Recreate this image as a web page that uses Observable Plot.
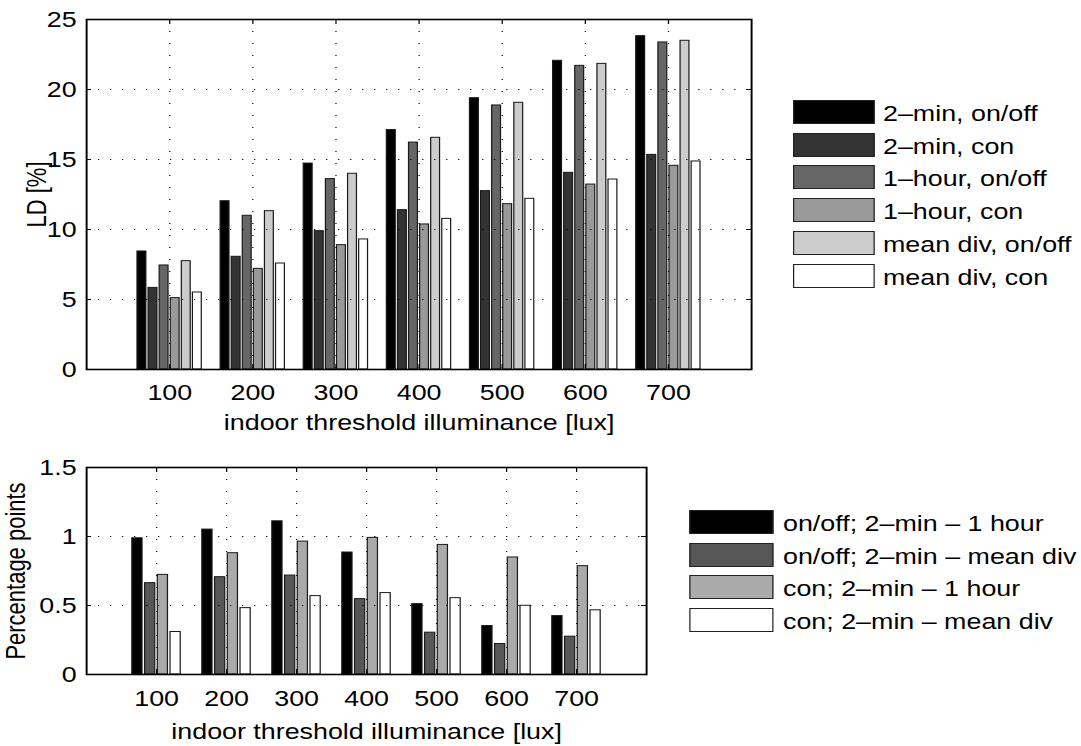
<!DOCTYPE html>
<html>
<head>
<meta charset="utf-8">
<script src="https://cdn.jsdelivr.net/npm/d3@7"></script>
<script src="https://cdn.jsdelivr.net/npm/@observablehq/plot@0.6"></script>
<style>
  html, body { margin: 0; padding: 0; background: #fff; overflow: hidden; }
  #fig { position: relative; height: 746px; transform-origin: 0 0; font-family: "Liberation Sans", Arial, Helvetica, sans-serif; }
  #fig svg { position: absolute; left: 0; }
  .lg-sw { position: absolute; box-sizing: border-box; border: 1px solid #222; }
  .lg-tx { position: absolute; font-size: 22px; line-height: 24px; white-space: nowrap; color: #000; }
</style>
</head>
<body>
<div id="fig"></div>
<script>
// ---------------- data ----------------
const thresholds = [100, 200, 300, 400, 500, 600, 700];

// top panel: LD [%]
const ldNames = ["2\u2013min, on/off", "2\u2013min, con", "1\u2013hour, on/off", "1\u2013hour, con", "mean div, on/off", "mean div, con"];
const ld_2min_onoff    = [8.43, 12.02, 14.71, 17.10, 19.38, 22.05, 23.81];
const ld_2min_con      = [5.83, 8.05, 9.88, 11.38, 12.74, 14.05, 15.33];
const ld_1hour_onoff   = [7.43, 10.98, 13.60, 16.21, 18.86, 21.69, 23.36];
const ld_1hour_con     = [5.10, 7.19, 8.88, 10.36, 11.81, 13.21, 14.55];
const ld_meandiv_onoff = [7.74, 11.31, 13.98, 16.55, 19.05, 21.83, 23.48];
const ld_meandiv_con   = [5.50, 7.57, 9.29, 10.76, 12.19, 13.57, 14.86];
const ldColors = ["#000000", "#333333", "#666666", "#999999", "#cccccc", "#ffffff"];
const ldTicks = [0, 5, 10, 15, 20, 25];

// bottom panel: percentage points
const ppNames = ["on/off; 2\u2013min \u2013 1 hour", "on/off; 2\u2013min \u2013 mean div", "con; 2\u2013min \u2013 1 hour", "con; 2\u2013min \u2013 mean div"];
const pp_onoff_1hour   = [0.987, 1.05, 1.11, 0.884, 0.51, 0.351, 0.423];
const pp_onoff_meandiv = [0.662, 0.705, 0.717, 0.546, 0.303, 0.221, 0.274];
const pp_con_1hour     = [0.722, 0.879, 0.963, 0.99, 0.939, 0.848, 0.785];
const pp_con_meandiv   = [0.308, 0.481, 0.568, 0.59, 0.553, 0.498, 0.465];
const ppColors = ["#000000", "#575757", "#aaaaaa", "#ffffff"];
const ppTicks = [0, 0.5, 1, 1.5];

// ---------------- layout ----------------
const S = 1.22;             // horizontal stretch of the original figure
const W = 1081 / S;
const fig = document.getElementById("fig");
fig.style.width = W + "px";
fig.style.transform = `scale(${S}, 1)`;

const FONT = "'Liberation Sans', Arial, Helvetica, sans-serif";
const groupIdx = thresholds.map((t, i) => i + 1);

function rowsOf(series) {
  return series.flatMap((vals, j) => vals.map((v, i) => ({g: i + 1, j, value: v})));
}

function chart({series, colors, yDomain, yTicks, ylabel, height, mt, mb, rightPx, tickPad, xlabelDy, ylabelX}) {
  const n = series.length;
  const groupW = Math.min(0.8, n / (n + 1.5));
  const slot = groupW / n;
  const half = slot * 0.4;
  const rows = rowsOf(series);
  const ml = 86 / S, mr = (1081 - rightPx) / S;
  const frameH = height - mt - mb;
  const frameW = W - ml - mr;
  const tk = 5;
  return Plot.plot({
    width: W, height,
    marginTop: mt, marginBottom: mb, marginLeft: ml, marginRight: mr,
    x: {type: "linear", domain: [0, thresholds.length + 1]},
    y: {domain: yDomain},
    color: {type: "identity"},
    style: {fontFamily: FONT, fontSize: "22px", color: "#000", background: "transparent", overflow: "visible"},
    marks: [
      Plot.rect(rows, {
        x1: d => d.g + (d.j - (n - 1) / 2) * slot - half,
        x2: d => d.g + (d.j - (n - 1) / 2) * slot + half,
        y1: d => 0, y2: "value",
        fill: d => colors[d.j], stroke: "#1a1a1a", strokeWidth: 1
      }),
      // dotted grid (drawn on top, MATLAB style)
      Plot.ruleX(groupIdx, {stroke: "#000", strokeWidth: 1, strokeDasharray: "1,11"}),
      Plot.ruleY(yTicks.slice(1, -1), {stroke: "#000", strokeWidth: 1, strokeDasharray: `1,${(12 / S - 1).toFixed(2)}`}),
      // inward ticks on all sides
      Plot.ruleX(groupIdx, {stroke: "#000", insetTop: frameH - tk}),
      Plot.ruleX(groupIdx, {stroke: "#000", insetBottom: frameH - tk}),
      Plot.ruleY(yTicks, {stroke: "#000", insetRight: frameW - tk / S}),
      Plot.ruleY(yTicks, {stroke: "#000", insetLeft: frameW - tk / S}),
      Plot.frame({stroke: "#000", strokeWidth: 1.6}),
      Plot.axisX({ticks: groupIdx, tickFormat: i => String(thresholds[i - 1]), tickSize: 0, tickPadding: tickPad, fontSize: 22, label: null}),
      Plot.axisY({ticks: yTicks, tickFormat: d => String(d), tickSize: 0, tickPadding: 10 / S, fontSize: 22, label: null}),
      Plot.text(["indoor threshold illuminance [lux]"], {frameAnchor: "bottom", lineAnchor: "top", dy: xlabelDy, fontSize: 22}),
      Plot.text([ylabel], {frameAnchor: "left", rotate: -90, textAnchor: "middle", lineAnchor: "middle", dx: (ylabelX - 86) / S, fontSize: 22})
    ]
  });
}

const top1 = chart({
  series: [ld_2min_onoff, ld_2min_con, ld_1hour_onoff, ld_1hour_con, ld_meandiv_onoff, ld_meandiv_con],
  colors: ldColors, yDomain: [0, 25], yTicks: ldTicks, ylabel: "LD [%]",
  height: 440, mt: 19, mb: 71, rightPx: 751, tickPad: 15, xlabelDy: 45, ylabelX: 37
});
top1.style.top = "0px";
fig.appendChild(top1);

const bot = chart({
  series: [pp_onoff_1hour, pp_onoff_meandiv, pp_con_1hour, pp_con_meandiv],
  colors: ppColors, yDomain: [0, 1.5], yTicks: ppTicks, ylabel: "Percentage points",
  height: 306, mt: 27, mb: 72, rightPx: 646, tickPad: 16, xlabelDy: 49, ylabelX: 16
});
bot.style.top = "440px";
fig.appendChild(bot);

// ---------------- legends ----------------
function legend(names, colors, swLeft, swW, top0, textLeft) {
  names.forEach((name, i) => {
    const y = top0 + i * 32.7;
    const sw = document.createElement("div");
    sw.className = "lg-sw";
    sw.style.left = (swLeft / S) + "px";
    sw.style.width = (swW / S) + "px";
    sw.style.top = y + "px";
    sw.style.height = "24px";
    sw.style.background = colors[i];
    fig.appendChild(sw);
    const tx = document.createElement("div");
    tx.className = "lg-tx";
    tx.style.left = (textLeft / S) + "px";
    tx.style.top = (y + 2) + "px";
    tx.textContent = name;
    fig.appendChild(tx);
  });
}
legend(ldNames, ldColors, 793, 82, 100, 883);
legend(ppNames, ppColors, 689, 84, 510, 783);
</script>
</body>
</html>
